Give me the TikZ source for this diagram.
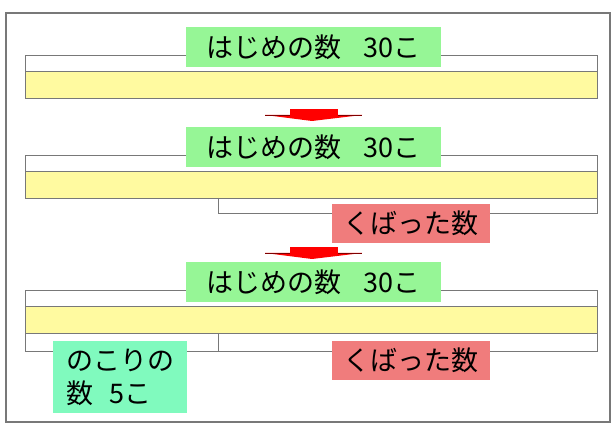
\documentclass[tikz,border=0pt]{standalone}
\usepackage{fontspec}
\newfontfamily\jpfont{Noto Sans CJK JP}
\definecolor{hajimegreen}{RGB}{150,246,150}
\definecolor{nokorimint}{RGB}{128,250,190}
\definecolor{kubarisalmon}{RGB}{240,124,124}
\definecolor{baryellow}{RGB}{255,250,160}
\definecolor{framegray}{RGB}{120,120,120}
\tikzstyle{tag} = [inner sep=0pt, font=\jpfont\fontsize{27}{33}\selectfont]
\tikzstyle{hajime} = [tag, fill=hajimegreen, minimum width=255pt, minimum height=40pt]
\tikzstyle{kubari} = [tag, fill=kubarisalmon, minimum width=158pt, minimum height=39pt]
\tikzstyle{nokori} = [tag, fill=nokorimint, minimum width=134pt, minimum height=72pt, align=left]
\tikzstyle{bracket} = [draw=framegray, line width=.8pt]
\tikzstyle{bar} = [fill=baryellow, draw=framegray, line width=.8pt]
\newcommand{\redarrow}[1]{%
  \fill[red] (290,#1) rectangle (338,#1+6);
  \fill[red] (265,#1+6) -- (362,#1+6) -- (312,#1+12) -- cycle;
  \draw[red!50!black, line width=.6pt] (265,#1+6) -- (290,#1+6) (338,#1+6) -- (362,#1+6);}

\begin{document}
\begin{tikzpicture}[x=1pt, y=-1pt]
  \useasboundingbox (0,0) rectangle (615,427);
  \fill[white] (0,0) rectangle (615,427);
  \draw[framegray, line width=1.2pt] (6,13) rectangle (610,422);
  % the three bars
  \foreach \n/\y in {1/55,2/155,3/290} {
    \draw[bracket] (25,\y+16) -- (25,\y) -- (597,\y) -- (597,\y+16);
    \draw[bar] (25,\y+16) rectangle (597,\y+43);
    \node[hajime] (hajime\n) at (313.5,\y-8) {はじめの数\hspace{.8em}30こ};
  }
  % lower brackets
  \draw[bracket] (218,198) -- (218,213) -- (597,213) -- (597,198);
  \draw[bracket] (25,333) -- (25,351) -- (597,351) -- (597,333);
  \draw[bracket] (218,333) -- (218,351);
  \node[kubari] (kubari1) at (411,223.5) {くばった数};
  \node[kubari] (kubari2) at (411,360.5) {くばった数};
  \node[nokori] (nokori) at (120,377) {のこりの\\数\hspace{.6em}5こ};
  % arrows
  \redarrow{109}
  \redarrow{247}
\end{tikzpicture}
\end{document}
